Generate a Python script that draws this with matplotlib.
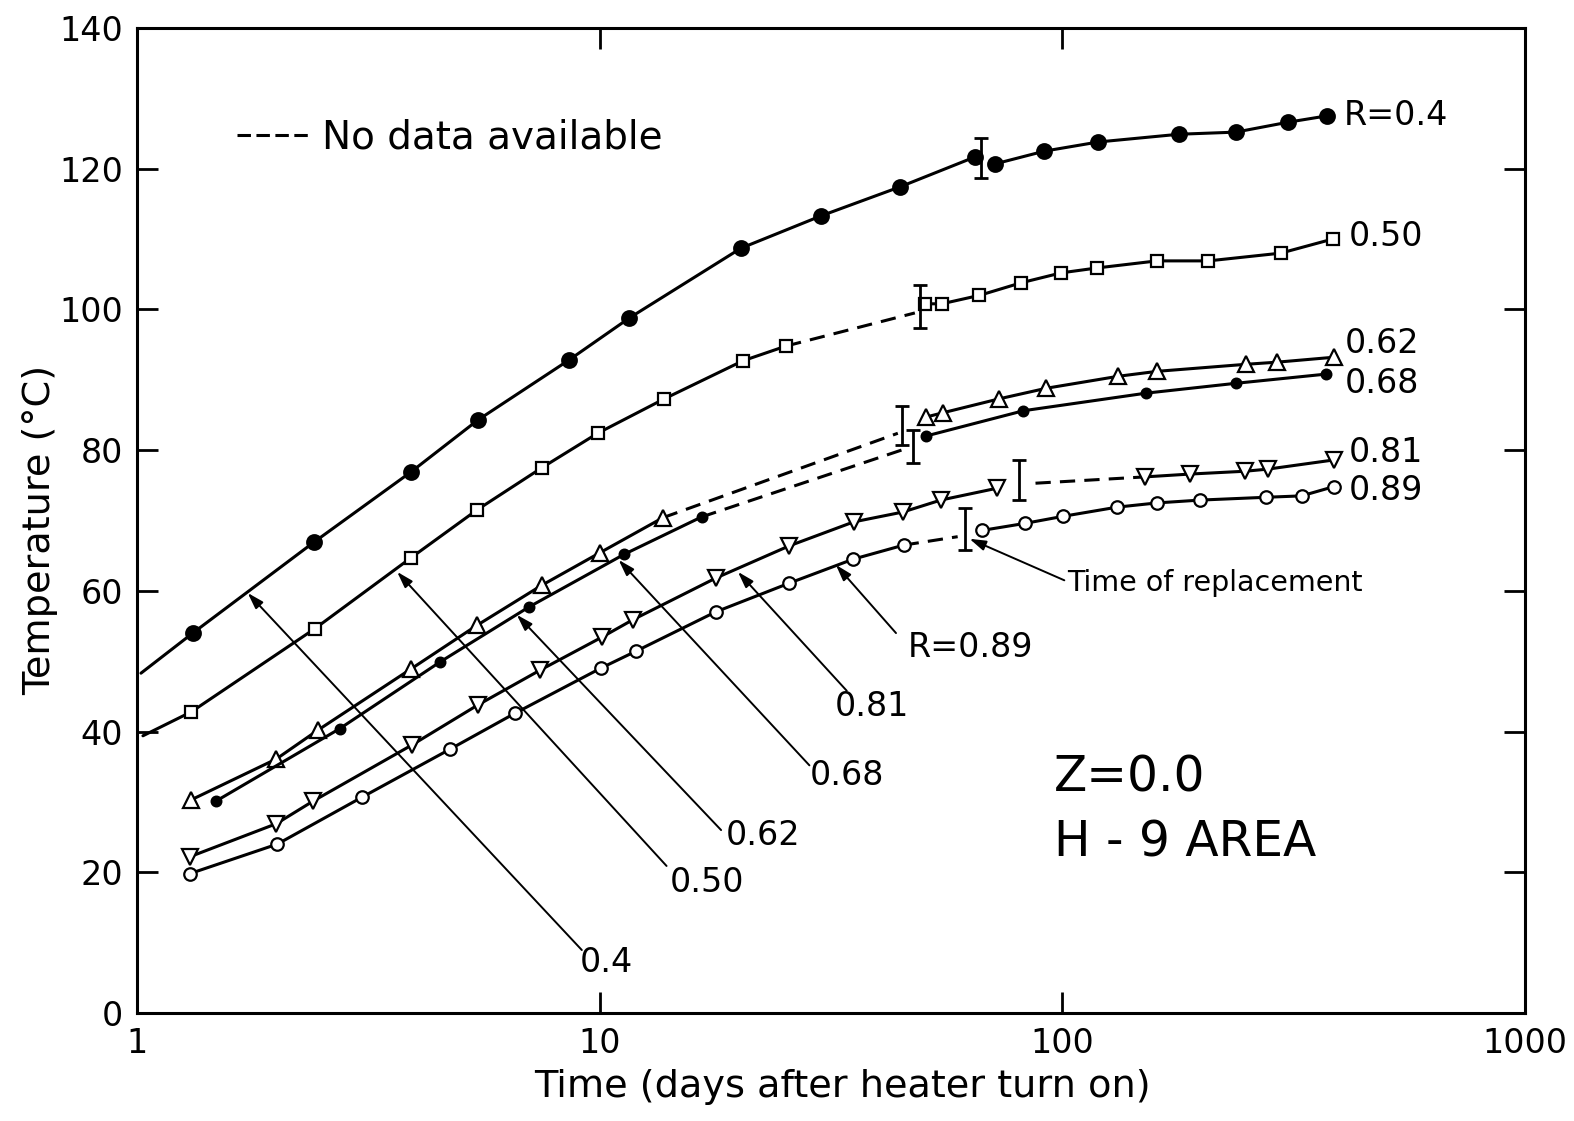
import matplotlib
matplotlib.use("Agg")
import matplotlib.pyplot as plt
from matplotlib.ticker import FixedLocator, NullLocator
from matplotlib.lines import Line2D

# ---------------- data (time in days, temperature in deg C) ----------------
# R = 0.4  (large filled circles)
r040_start = (1.02, 48.3)
r040_pre_t = [1.32, 2.41, 3.91, 5.46, 8.58, 11.6, 20.2, 30.1, 44.5, 64.9]
r040_pre_T = [54.0, 66.9, 76.9, 84.3, 92.8, 98.8, 108.7, 113.3, 117.4, 121.7]
r040_post_t = [71.7, 91.5, 119.6, 178.7, 237.1, 306.9, 372.4]
r040_post_T = [120.7, 122.5, 123.8, 124.9, 125.2, 126.6, 127.5]

# R = 0.50 (open squares)
r050_start = (1.03, 39.4)
r050_pre_t = [1.31, 2.42, 3.91, 5.43, 7.50, 9.90, 13.8, 20.4, 25.3]
r050_pre_T = [42.8, 54.6, 64.7, 71.5, 77.5, 82.4, 87.3, 92.7, 94.8]
r050_gap_end = (48.0, 99.5)
r050_post_t = [50.4, 54.9, 66.2, 81.6, 99.5, 119.0, 160.2, 206.9, 296.5, 383.8]
r050_post_T = [100.8, 100.8, 102.0, 103.8, 105.2, 105.9, 106.9, 106.9, 108.0, 110.0]

# R = 0.62 (open triangles)
r062_pre_t = [1.31, 2.00, 2.46, 3.91, 5.43, 7.50, 10.0, 13.7]
r062_pre_T = [30.3, 36.1, 40.2, 48.9, 55.1, 60.8, 65.4, 70.4]
r062_gap_end = (44.1, 82.4)
r062_post_t = [50.7, 55.1, 73.1, 92.4, 132.1, 160.2, 249.2, 290.6, 385.6]
r062_post_T = [84.7, 85.3, 87.3, 88.8, 90.5, 91.2, 92.2, 92.5, 93.2]

# R = 0.68 (small filled circles)
r068_pre_t = [1.48, 2.74, 4.52, 7.03, 11.3, 16.6]
r068_pre_T = [30.1, 40.4, 49.9, 57.7, 65.2, 70.5]
r068_gap_end = (46.8, 80.4)
r068_post_t = [50.7, 82.4, 151.7, 237.1, 370.7]
r068_post_T = [82.0, 85.6, 88.1, 89.5, 90.8]

# R = 0.81 (open inverted triangles)
r081_pre_t = [1.30, 2.00, 2.40, 3.93, 5.46, 7.42, 10.1, 11.8, 17.8, 25.7, 35.4, 45.2, 54.6, 72.4]
r081_pre_T = [22.2, 26.9, 30.1, 38.1, 43.8, 48.7, 53.4, 55.9, 61.8, 66.4, 69.8, 71.2, 72.9, 74.6]
r081_gap_start = (87.5, 75.3)
r081_post_t = [151.0, 188.7, 248.0, 278.0, 385.6]
r081_post_T = [76.2, 76.6, 77.0, 77.3, 78.6]

# R = 0.89 (open circles)
r089_pre_t = [1.30, 2.01, 3.07, 4.75, 6.56, 10.05, 11.96, 17.8, 25.7, 35.3, 45.4]
r089_pre_T = [19.8, 24.0, 30.7, 37.5, 42.6, 49.0, 51.4, 57.0, 61.1, 64.5, 66.5]
r089_gap_end = (59.4, 67.7)
r089_post_t = [67.2, 83.2, 100.5, 131.4, 160.2, 198.4, 275.3, 329.0, 385.6]
r089_post_T = [68.6, 69.6, 70.6, 71.9, 72.5, 72.9, 73.3, 73.5, 74.8]

# time-of-replacement bars
bar_t = [66.6, 49.2, 45.0, 47.5, 80.8, 61.5]
bar_lo = [118.7, 97.4, 80.7, 78.2, 72.9, 65.8]
bar_hi = [124.4, 103.5, 86.3, 82.9, 78.6, 71.8]

# axis ticks
x_ticks = [1, 10, 100, 1000]
x_ticklabels = ["1", "10", "100", "1000"]
y_ticks = [0, 20, 40, 60, 80, 100, 120, 140]

# right-hand curve labels
end_labels = ["R=0.4", "0.50", "0.62", "0.68", "0.81", "0.89"]
end_label_t = [405, 415, 407, 407, 415, 415]
end_label_T = [127.6, 110.3, 95.2, 89.5, 79.6, 74.3]

# arrow labels: text, text position, arrow tail, arrow tip
arrow_labels = ["0.4", "0.50", "0.62", "0.68", "0.81", "R=0.89"]
arrow_text_pos = [(10.35, 7.2), (17.1, 18.6), (22.5, 25.2), (34.2, 33.7), (38.7, 43.6), (63.4, 51.9)]
arrow_tail = [(9.15, 8.95), (13.95, 20.9), (18.3, 26.0), (28.4, 35.2), (34.2, 45.8), (43.7, 54.0)]
arrow_tip = [(1.735, 59.7), (3.65, 62.7), (6.62, 56.6), (10.99, 64.4), (19.9, 62.7), (32.4, 63.7)]

# ---------------- figure ----------------
plt.rcParams["font.family"] = ["DejaVu Sans"]
W, H = 1574, 1121
fig = plt.figure(figsize=(W / 100, H / 100), dpi=100)
L, R, B, T = 137, 1525, 1013, 28
ax = fig.add_axes([L / W, (H - B) / H, (R - L) / W, (B - T) / H])
ax.set_xscale("log")
ax.set_xlim(1, 1000)
ax.set_ylim(0, 140)

LW = 2.2
DASH = (0, (5.0, 3.0))
K = "black"
MEW = 1.6


def solid(t, T, marker, ms, face, extra_start=None):
    xs, ys = list(t), list(T)
    if extra_start is not None:
        ax.plot([extra_start[0], xs[0]], [extra_start[1], ys[0]], color=K, lw=LW,
                solid_capstyle="round")
    ax.plot(xs, ys, color=K, lw=LW, marker=marker, ms=ms, mfc=face, mec=K, mew=MEW,
            zorder=3, solid_joinstyle="round")


def dashed(p0, p1):
    ax.plot([p0[0], p1[0]], [p0[1], p1[1]], color=K, lw=LW, ls=DASH, zorder=2)


# R = 0.4
solid(r040_pre_t, r040_pre_T, "o", 10.5, K, r040_start)
solid(r040_post_t, r040_post_T, "o", 10.5, K)
# R = 0.50
solid(r050_pre_t, r050_pre_T, "s", 9, "white", r050_start)
dashed((r050_pre_t[-1], r050_pre_T[-1]), r050_gap_end)
solid(r050_post_t, r050_post_T, "s", 9, "white")
# R = 0.62
solid(r062_pre_t, r062_pre_T, "^", 11, "white")
dashed((r062_pre_t[-1], r062_pre_T[-1]), r062_gap_end)
solid(r062_post_t, r062_post_T, "^", 11, "white")
# R = 0.68
solid(r068_pre_t, r068_pre_T, "o", 7, K)
dashed((r068_pre_t[-1], r068_pre_T[-1]), r068_gap_end)
solid(r068_post_t, r068_post_T, "o", 7, K)
# R = 0.81
solid(r081_pre_t, r081_pre_T, "v", 11, "white")
dashed(r081_gap_start, (r081_post_t[0], r081_post_T[0]))
solid(r081_post_t, r081_post_T, "v", 11, "white")
# R = 0.89
solid(r089_pre_t, r089_pre_T, "o", 9, "white")
dashed((r089_pre_t[-1], r089_pre_T[-1]), r089_gap_end)
solid(r089_post_t, r089_post_T, "o", 9, "white")

# replacement bars
mid = [(lo + hi) / 2 for lo, hi in zip(bar_lo, bar_hi)]
half = [(hi - lo) / 2 for lo, hi in zip(bar_lo, bar_hi)]
ax.errorbar(bar_t, mid, yerr=half, fmt="none", ecolor=K, elinewidth=2.0,
            capsize=5, capthick=2.0, zorder=4)

# end labels
for s, x, y in zip(end_labels, end_label_t, end_label_T):
    ax.text(x, y, s, fontsize=24, ha="left", va="center")

# arrow labels
ARROW = dict(arrowstyle="-|>,head_length=0.7,head_width=0.22", lw=1.4, color=K,
             mutation_scale=14, shrinkA=0, shrinkB=0)
for s, tp, tail, tip in zip(arrow_labels, arrow_text_pos, arrow_tail, arrow_tip):
    ax.annotate("", xy=tip, xytext=tail, arrowprops=ARROW)
    ax.text(tp[0], tp[1], s, fontsize=24, ha="center", va="center")

# time of replacement
ax.annotate("", xy=(63.0, 67.4), xytext=(101.0, 61.5), arrowprops=ARROW)
ax.text(102.5, 61.1, "Time of replacement", fontsize=20.5, ha="left", va="center")

# Z / area
ax.text(96.1, 33.5, "Z=0.0", fontsize=35, ha="left", va="center")
ax.text(96.1, 24.2, "H - 9 AREA", fontsize=35, ha="left", va="center")

# legend for dashed line
leg = ax.legend(handles=[Line2D([], [], color=K, lw=2.2, ls=(0, (4.4, 1.8)))],
                labels=["No data available"], loc="center left",
                bbox_to_anchor=(0.072, 0.889), frameon=False, fontsize=28,
                handlelength=1.9, handletextpad=0.3, borderpad=0, borderaxespad=0)

# axes styling
ax.xaxis.set_major_locator(FixedLocator(x_ticks))
ax.xaxis.set_minor_locator(NullLocator())
ax.set_xticklabels(x_ticklabels)
ax.set_yticks(y_ticks)
ax.tick_params(axis="both", which="major", direction="in", length=15, width=2.0,
               top=True, right=True, labelsize=24)
ax.tick_params(axis="y", pad=10)
ax.tick_params(axis="x", pad=10)
for sp in ax.spines.values():
    sp.set_linewidth(2.2)

ax.set_xlabel("Time (days after heater turn on)", fontsize=27.5, va="center")
ax.xaxis.set_label_coords(0.508, -0.0751)
ax.set_ylabel("Temperature (°C)", fontsize=27.5, va="center")
ax.yaxis.set_label_coords(-0.0699, 0.49)

fig.savefig("out.png", dpi=100)
